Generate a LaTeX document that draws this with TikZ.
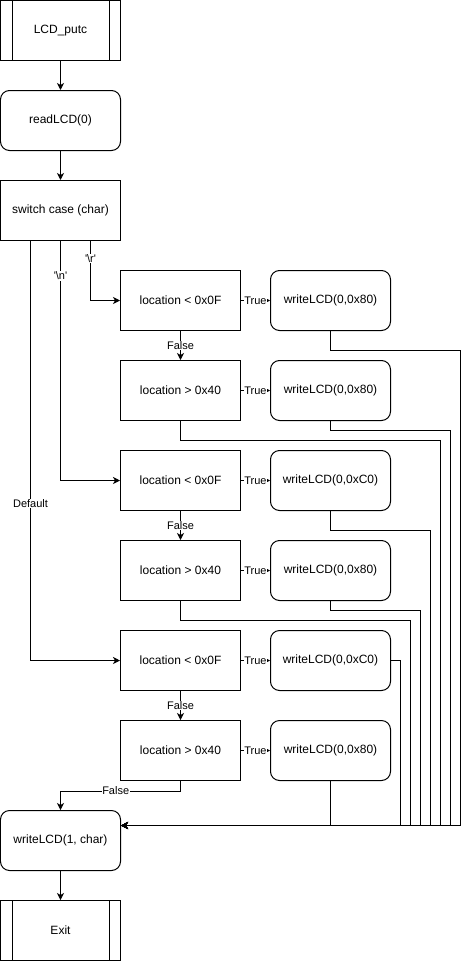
\documentclass[tikz,border=0pt]{standalone}
\usepackage{fontspec}
\setmainfont{Liberation Sans}
\usetikzlibrary{arrows.meta}

\begin{document}
\begin{tikzpicture}[x=1pt,y=-1pt,line width=1pt,
  >={Stealth[length=7pt,width=7pt,inset=2pt]},
  box/.style={draw,minimum width=120pt,minimum height=60pt,inner sep=0pt,
    font=\fontsize{12}{14}\selectfont},
  roundbox/.style={box,rounded corners=9pt},
  lbl/.style={fill=white,inner sep=0.5pt,font=\fontsize{11}{13}\selectfont},
  truearrow/.style={-{Stealth[length=4pt,width=4pt]}}]
  \useasboundingbox (-0.5,-0.5) rectangle (469.5,960.5);
  % main column
  \node[box] (start) at (60,30) {LCD\_putc};
  \node[roundbox] (read) at (60,120) {readLCD(0)};
  \node[box] (switch) at (60,210) {switch case (char)};
  \node[roundbox] (out) at (60,840) {writeLCD(1, char)};
  \node[box] (exit) at (60,930) {Exit};
  \draw ([xshift=12pt]start.north west) -- ([xshift=12pt]start.south west);
  \draw ([xshift=-12pt]start.north east) -- ([xshift=-12pt]start.south east);
  \draw ([xshift=12pt]exit.north west) -- ([xshift=12pt]exit.south west);
  \draw ([xshift=-12pt]exit.north east) -- ([xshift=-12pt]exit.south east);
  % tests and writes
  \node[box] (c1) at (180,300) {location < 0x0F};
  \node[box] (c2) at (180,390) {location > 0x40};
  \node[box] (c3) at (180,480) {location < 0x0F};
  \node[box] (c4) at (180,570) {location > 0x40};
  \node[box] (c5) at (180,660) {location < 0x0F};
  \node[box] (c6) at (180,750) {location > 0x40};
  \node[roundbox] (w1) at (330,300) {writeLCD(0,0x80)};
  \node[roundbox] (w2) at (330,390) {writeLCD(0,0x80)};
  \node[roundbox] (w3) at (330,480) {writeLCD(0,0xC0)};
  \node[roundbox] (w4) at (330,570) {writeLCD(0,0x80)};
  \node[roundbox] (w5) at (330,660) {writeLCD(0,0xC0)};
  \node[roundbox] (w6) at (330,750) {writeLCD(0,0x80)};
  \coordinate (in) at ([yshift=15pt]out.east);

  \draw[->] (start) -- (read);
  \draw[->] (read) -- (switch);
  \draw[->] (out) -- (exit);
  \draw[->] ([xshift=30pt]switch.south) |- node[lbl,pos=0.15] {\textquotesingle\textbackslash r\textquotesingle} (c1.west);
  \draw[->] (switch.south) |- node[lbl,pos=0.073] {\textquotesingle\textbackslash n\textquotesingle} (c3.west);
  \draw[->] ([xshift=-30pt]switch.south) |- node[lbl,pos=0.313] {Default} (c5.west);

  \draw[truearrow] (c1) -- node[lbl] {True} (w1);
  \draw[truearrow] (c2) -- node[lbl] {True} (w2);
  \draw[truearrow] (c3) -- node[lbl] {True} (w3);
  \draw[truearrow] (c4) -- node[lbl] {True} (w4);
  \draw[truearrow] (c5) -- node[lbl] {True} (w5);
  \draw[truearrow] (c6) -- node[lbl] {True} (w6);
  \draw[->] (c1) -- node[lbl] {False} (c2);
  \draw[->] (c3) -- node[lbl] {False} (c4);
  \draw[->] (c5) -- node[lbl] {False} (c6);
  \draw[->] (c6.south) -- ++(0,10) -| node[lbl,pos=0.27] {False} (out.north);

  % back to writeLCD(1, char)
  \draw[->] (w1.south) |- (460,350) |- (in);
  \draw[->] (w2.south) |- (450,430) |- (in);
  \draw[->] (c2.south) |- (440,440) |- (in);
  \draw[->] (w3.south) |- (430,530) |- (in);
  \draw[->] (w4.south) |- (420,610) |- (in);
  \draw[->] (c4.south) |- (410,620) |- (in);
  \draw[->] (w5.east) -- (400,660) |- (in);
  \draw[->] (w6.south) |- (in);
\end{tikzpicture}
\end{document}
